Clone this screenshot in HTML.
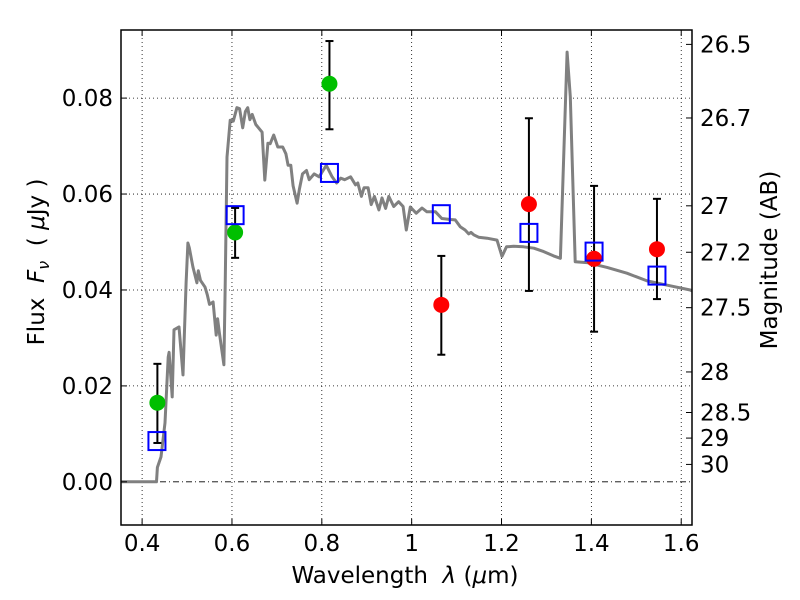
<!DOCTYPE html>
<html><head><meta charset="utf-8"><style>
html,body{margin:0;padding:0;background:#fff;}
svg{display:block;font-family:"DejaVu Sans","Liberation Sans",sans-serif;}
.pre{white-space:pre;}
</style></head><body>
<svg id="chart" width="800" height="600" viewBox="0 0 800 600">
<rect x="0" y="0" width="800" height="600" fill="#fff"/>
<g id="grid"></g>
<g id="spec"></g>
<g id="marks"></g>
<g id="axes"></g>
<text class="pre" x="405" y="583" font-size="23" text-anchor="middle">Wavelength  <tspan font-style="italic">λ</tspan> (<tspan font-style="italic">μ</tspan>m)</text>
<text class="pre" transform="translate(44,262) rotate(-90)" font-size="23" text-anchor="middle">Flux  <tspan font-style="italic">F</tspan><tspan font-style="italic" font-size="16" dy="5">ν</tspan><tspan dy="-5">  ( </tspan><tspan font-style="italic">μ</tspan>Jy )</text>
<text transform="translate(777,260) rotate(-90)" font-size="23" text-anchor="middle">Magnitude (AB)</text>
</svg>
<script>
const xTicks=[0.4,0.6,0.8,1.0,1.2,1.4,1.6];
const xTickLabels=["0.4","0.6","0.8","1","1.2","1.4","1.6"];
const yTicks=[0,0.02,0.04,0.06,0.08];
const yTickLabels=["0.00","0.02","0.04","0.06","0.08"];
const magTicks=[26.5,26.7,27,27.2,27.5,28,28.5,29,30];
const magTickLabels=["26.5","26.7","27","27.2","27.5","28","28.5","29","30"];
const specWave=[0.353,0.432,0.434,0.442,0.451,0.458,0.46,0.467,0.471,0.482,0.491,0.498,0.502,0.505,0.513,0.522,0.525,0.53,0.54,0.545,0.55,0.558,0.565,0.568,0.572,0.582,0.585,0.589,0.596,0.603,0.611,0.617,0.624,0.63,0.635,0.64,0.645,0.653,0.667,0.673,0.68,0.685,0.693,0.702,0.713,0.72,0.725,0.731,0.736,0.745,0.75,0.757,0.766,0.772,0.783,0.794,0.81,0.823,0.833,0.842,0.851,0.864,0.875,0.88,0.888,0.894,0.903,0.91,0.917,0.927,0.934,0.942,0.949,0.96,0.971,0.981,0.988,0.997,1.010,1.023,1.034,1.053,1.067,1.086,1.097,1.108,1.119,1.127,1.132,1.138,1.149,1.168,1.19,1.201,1.211,1.227,1.249,1.272,1.294,1.316,1.331,1.338,1.346,1.353,1.364,1.39,1.435,1.479,1.524,1.569,1.62,1.624];
const specFlux=[0,0,0.003,0.0052,0.0123,0.026,0.027,0.0177,0.0317,0.0323,0.0223,0.0415,0.0498,0.0488,0.0448,0.0415,0.044,0.042,0.0406,0.039,0.037,0.0375,0.0306,0.034,0.031,0.0244,0.041,0.0677,0.0754,0.0752,0.078,0.0778,0.0738,0.0772,0.078,0.0755,0.0766,0.0745,0.0729,0.0629,0.0706,0.0705,0.0723,0.0698,0.0698,0.0684,0.066,0.066,0.0617,0.0581,0.061,0.0642,0.0649,0.063,0.0642,0.0636,0.066,0.0636,0.0623,0.0633,0.063,0.0636,0.0619,0.0623,0.0595,0.0613,0.0613,0.0578,0.0595,0.0567,0.0592,0.057,0.0595,0.0574,0.0584,0.0574,0.0525,0.0573,0.056,0.0571,0.0563,0.0563,0.0549,0.0547,0.0546,0.0532,0.0525,0.0517,0.052,0.0515,0.051,0.0508,0.0504,0.047,0.049,0.0491,0.049,0.0487,0.048,0.0471,0.0466,0.0665,0.0896,0.0803,0.0459,0.0457,0.0447,0.0435,0.0419,0.041,0.04,0.0398];
const greenWave=[0.434,0.607,0.817];
const greenFlux=[0.0165,0.052,0.083];
const greenErrLo=[0.0081,0.0467,0.0735];
const greenErrHi=[0.0246,0.0571,0.0919];
const redWave=[1.066,1.261,1.406,1.546];
const redFlux=[0.0369,0.0579,0.0465,0.0485];
const redErrLo=[0.0265,0.0398,0.0313,0.0381];
const redErrHi=[0.0471,0.0758,0.0617,0.059];
const modelWave=[0.433,0.607,0.817,1.066,1.261,1.406,1.546];
const modelFlux=[0.0085,0.0556,0.0644,0.0558,0.0519,0.048,0.043];

const L=121,R=692,T=30,B=525;
const xMin=0.353,xMax=1.624,yMin=-0.0090,yMax=0.0942;
const X=v=>L+(v-xMin)/(xMax-xMin)*(R-L);
const Y=v=>B-(v-yMin)/(yMax-yMin)*(B-T);
const magToFlux=m=>Math.pow(10,(23.9-m)/2.5);
const NS="http://www.w3.org/2000/svg";
function mk(tag,attrs,parent){const e=document.createElementNS(NS,tag);for(const k in attrs)e.setAttribute(k,attrs[k]);parent.appendChild(e);return e;}
const grid=document.getElementById('grid'),spec=document.getElementById('spec'),marks=document.getElementById('marks'),axes=document.getElementById('axes');

xTicks.forEach((t,i)=>{
  const g=mk('line',{x1:X(t),x2:X(t),y1:T,y2:B,stroke:'#000','stroke-width':0.8,'stroke-dasharray':'1,3'},grid);
  
  
  const tk=mk('line',{x1:X(t),x2:X(t),y1:B,y2:B-6,stroke:'#000','stroke-width':1},axes);
  
  
  const tt=mk('line',{x1:X(t),x2:X(t),y1:T,y2:T+6,stroke:'#000','stroke-width':1},axes);
  
  
  const lb=mk('text',{x:X(t),y:B+26,'font-size':23,'text-anchor':'middle'},axes);
  lb.textContent=xTickLabels[i];
  
  
});
yTicks.forEach((t,i)=>{
  const g=mk('line',{x1:L,x2:R,y1:Y(t),y2:Y(t),stroke:'#000','stroke-width':0.8,'stroke-dasharray':t===0?'6,3,1,3':'1,3'},grid);
  
  
  const tk=mk('line',{x1:L,x2:L+6,y1:Y(t),y2:Y(t),stroke:'#000','stroke-width':1},axes);
  
  
  const lb=mk('text',{x:L-8,y:Y(t)+8,'font-size':23,'text-anchor':'end'},axes);
  lb.textContent=yTickLabels[i];
  
  
});
magTicks.forEach((m,i)=>{
  const y=Y(magToFlux(m));
  const tk=mk('line',{x1:R,x2:R-6,y1:y,y2:y,stroke:'#000','stroke-width':1},axes);
  
  
  const lb=mk('text',{x:R+8,y:y+8,'font-size':23,'text-anchor':'start'},axes);
  lb.textContent=magTickLabels[i];
  
  
});

const pts=specWave.map((w,i)=>X(w).toFixed(1)+','+Y(specFlux[i]).toFixed(1)).join(' ');
const pl=mk('polyline',{points:pts,fill:'none',stroke:'#808080','stroke-width':3,'stroke-linejoin':'round'},spec);



function errbar(w,lo,hi){
  const x=X(w);
  const v=mk('line',{x1:x,x2:x,y1:Y(lo),y2:Y(hi),stroke:'#000','stroke-width':2},marks);
  
  
  [lo,hi].forEach(e=>{
    const c=mk('line',{x1:x-4,x2:x+4,y1:Y(e),y2:Y(e),stroke:'#000','stroke-width':2},marks);
    
    
  });
}
greenWave.forEach((w,i)=>errbar(w,greenErrLo[i],greenErrHi[i]));
redWave.forEach((w,i)=>errbar(w,redErrLo[i],redErrHi[i]));
greenWave.forEach((w,i)=>{
  const c=mk('circle',{cx:X(w),cy:Y(greenFlux[i]),r:8,fill:'#00bf00'},marks);
  
  
});
redWave.forEach((w,i)=>{
  const c=mk('circle',{cx:X(w),cy:Y(redFlux[i]),r:8,fill:'#ff0000'},marks);
  
  
});
modelWave.forEach((w,i)=>{
  const s=mk('rect',{x:X(w)-8.5,y:Y(modelFlux[i])-9,width:17,height:18,fill:'none',stroke:'#0000ff','stroke-width':2},marks);
  
  
});
const fr=mk('rect',{x:L,y:T,width:R-L,height:B-T,fill:'none',stroke:'#000','stroke-width':1.5},axes);


</script>
</body></html>
